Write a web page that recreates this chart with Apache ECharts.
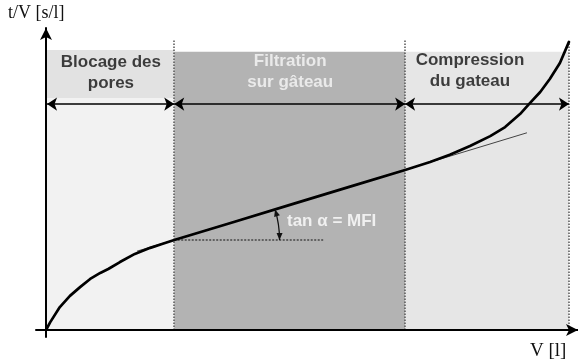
<!DOCTYPE html>
<html>
<head>
<meta charset="utf-8">
<script src="https://cdn.jsdelivr.net/npm/echarts@6/dist/echarts.min.js"></script>
<style>
  html, body { margin: 0; padding: 0; background: #ffffff; }
  #chart { width: 578px; height: 363px; }
</style>
</head>
<body>
<div id="chart"></div>
<script>
// Filtration curve t/V versus V (arbitrary units)
const curveV = [0, 0.8, 2.6, 4.5, 6.4, 8.3, 10.2, 11.7, 13.9, 16.7, 19.6, 21.8, 24.1, 35.0, 46.0, 57.0, 67.5, 72.2, 75.9, 79.7, 83.5, 86.3, 89.1, 91.0, 92.9, 94.7, 96.6, 98.3];
const curveT = [0, 2.6, 7.6, 11.3, 14.2, 16.9, 18.9, 20.2, 22.5, 25.2, 27.2, 28.5, 29.8, 35.6, 41.5, 47.4, 53.0, 55.6, 58.0, 60.9, 64.2, 67.2, 71.5, 75.2, 78.8, 83.1, 88.4, 95.4];

// Phase boundaries on V and phase names
const phaseBounds = [0, 24.1, 67.5, 98.3];
const phaseNames = ['Blocage des\npores', 'Filtration\nsur gâteau', 'Compression\ndu gateau'];
const phaseLabelV = [12.2, 45.9, 79.7];
const phaseLabelT = [85.1, 85.4, 85.8];

// Straight part of the curve, extended (slope = MFI)
const tangentV = [17.1, 90.4];
const tangentT = [26.1, 65.3];

// Horizontal reference from the start of cake filtration
const refV = [24.1, 52.1];
const refT = 29.8;

const slopeLabel = 'tan α = MFI';

const chart = echarts.init(document.getElementById('chart'), null, { renderer: 'canvas' });

const font = 'Arial, "Liberation Sans", Helvetica, sans-serif';
const serif = '"Liberation Serif", "Times New Roman", serif';

const arrowY = 74.8;
const regionTop = 92.1;

const option = {
  animation: false,
  backgroundColor: '#ffffff',
  grid: { left: 36, right: 0, top: 28, bottom: 26 },
  xAxis: {
    type: 'value', min: -1.88, max: 100, z: 10,
    axisLine: { onZero: true, lineStyle: { color: '#000', width: 2 }, symbol: ['none', 'arrow'], symbolSize: [9, 12] },
    axisTick: { show: false }, axisLabel: { show: false }, splitLine: { show: false }
  },
  yAxis: {
    type: 'value', min: -2.32, max: 100, z: 10,
    axisLine: { onZero: true, lineStyle: { color: '#000', width: 2 }, symbol: ['none', 'arrow'], symbolSize: [9, 12] },
    axisTick: { show: false }, axisLabel: { show: false }, splitLine: { show: false }
  },
  graphic: [
    { type: 'text', left: 8, top: 4, style: { text: 't/V [s/l]', font: '18px ' + serif, fill: '#111' } },
    { type: 'text', left: 530, top: 342, style: { text: 'V [l]', font: '19px ' + serif, fill: '#111' } }
  ],
  series: [
    {
      name: 'phases', type: 'line', data: [], silent: true,
      markArea: {
        silent: true,
        data: [
          [{ xAxis: phaseBounds[0], yAxis: 0, itemStyle: { color: '#f2f2f2' } }, { xAxis: phaseBounds[1], yAxis: 76.8 }],
          [{ xAxis: phaseBounds[0], yAxis: 76.8, itemStyle: { color: '#e2e2e2' } }, { xAxis: phaseBounds[1], yAxis: 92.7 }],
          [{ xAxis: phaseBounds[1], yAxis: 0, itemStyle: { color: '#b3b3b3' } }, { xAxis: phaseBounds[2], yAxis: regionTop }],
          [{ xAxis: phaseBounds[2], yAxis: 0, itemStyle: { color: '#e6e6e6' } }, { xAxis: phaseBounds[3], yAxis: regionTop }]
        ]
      },
      markLine: {
        silent: true, symbol: ['none', 'none'], label: { show: false },
        lineStyle: { color: '#555', type: [1.5, 1.5], width: 1.5 },
        data: [
          [{ coord: [phaseBounds[1], 0] }, { coord: [phaseBounds[1], 96] }],
          [{ coord: [phaseBounds[2], 0] }, { coord: [phaseBounds[2], 96] }],
          [{ coord: [phaseBounds[3], 0] }, { coord: [phaseBounds[3], 95] }]
        ]
      }
    },
    {
      name: 'phase arrows', type: 'line', data: [], silent: true,
      markLine: {
        silent: true, symbol: ['arrow', 'arrow'], symbolSize: 10, label: { show: false },
        lineStyle: { color: '#000', type: 'solid', width: 1.5 },
        data: [
          [{ coord: [0.2, arrowY] }, { coord: [phaseBounds[1], arrowY] }],
          [{ coord: [phaseBounds[1], arrowY] }, { coord: [phaseBounds[2], arrowY] }],
          [{ coord: [phaseBounds[2], arrowY] }, { coord: [phaseBounds[3], arrowY] }]
        ]
      }
    },
    {
      name: 'reference', type: 'line', silent: true, symbol: 'none',
      lineStyle: { color: '#111', width: 1.2, type: [2, 1.5] },
      data: refV.map(v => [v, refT])
    },
    {
      name: 'tangent', type: 'line', silent: true, symbol: 'none',
      lineStyle: { color: '#444', width: 1 },
      data: tangentV.map((v, i) => [v, tangentT[i]])
    },
    {
      name: 't/V', type: 'line', silent: true, symbol: 'none', smooth: false,
      lineStyle: { color: '#000', width: 2.7, join: 'round', cap: 'round' },
      data: curveV.map((v, i) => [v, curveT[i]]), z: 5
    },
    {
      // angle marker between the reference and the straight part of the curve
      name: 'angle', type: 'custom', silent: true, z: 6,
      data: [[refV[0], refT]],
      renderItem: function (params, api) {
        const c = api.coord([refV[0], refT]);
        const pEnd = api.coord([curveV[16], curveT[16]]);
        const theta = Math.atan2(c[1] - pEnd[1], pEnd[0] - c[0]);
        const r = api.coord([refV[0] + 19.8, refT])[0] - c[0];
        const tip1 = [c[0] + r * Math.cos(theta), c[1] - r * Math.sin(theta)];
        const d1 = [-Math.sin(theta), -Math.cos(theta)];
        const tip2 = [c[0] + r, c[1]];
        const d2 = [0, 1];
        const head = (tip, d) => {
          const L = 7, W = 3;
          const bx = tip[0] - d[0] * L, by = tip[1] - d[1] * L;
          return [tip, [bx - d[1] * W, by + d[0] * W], [bx + d[1] * W, by - d[0] * W]];
        };
        return {
          type: 'group',
          children: [
            { type: 'arc', shape: { cx: c[0], cy: c[1], r: r, startAngle: -theta, endAngle: 0, clockwise: true },
              style: { stroke: '#111', lineWidth: 1.3, fill: null } },
            { type: 'polygon', shape: { points: head(tip1, d1) }, style: { fill: '#111' } },
            { type: 'polygon', shape: { points: head(tip2, d2) }, style: { fill: '#111' } }
          ]
        };
      }
    },
    {
      name: 'labels', type: 'scatter', silent: true, symbolSize: 0, z: 8,
      data: phaseNames.map((n, i) => ({ name: n, value: [phaseLabelV[i], phaseLabelT[i]] })),
      label: {
        show: true, position: 'inside', formatter: '{b}',
        fontFamily: font, fontWeight: 'bold', fontSize: 17, lineHeight: 21, align: 'center', color: '#111'
      }
    },
    {
      name: 'slope', type: 'scatter', silent: true, symbolSize: 0, z: 8,
      data: [{ name: slopeLabel, value: [45.3, 36.1] }],
      label: { show: true, position: 'right', distance: 0, formatter: '{b}', fontFamily: font, fontWeight: 'bold', fontSize: 17, color: '#ffffff' }
    }
  ]
};

// white lettering on the dark middle band
option.series[6].data[1].label = { color: '#f8f8f8' };

chart.setOption(option);
</script>
</body>
</html>
